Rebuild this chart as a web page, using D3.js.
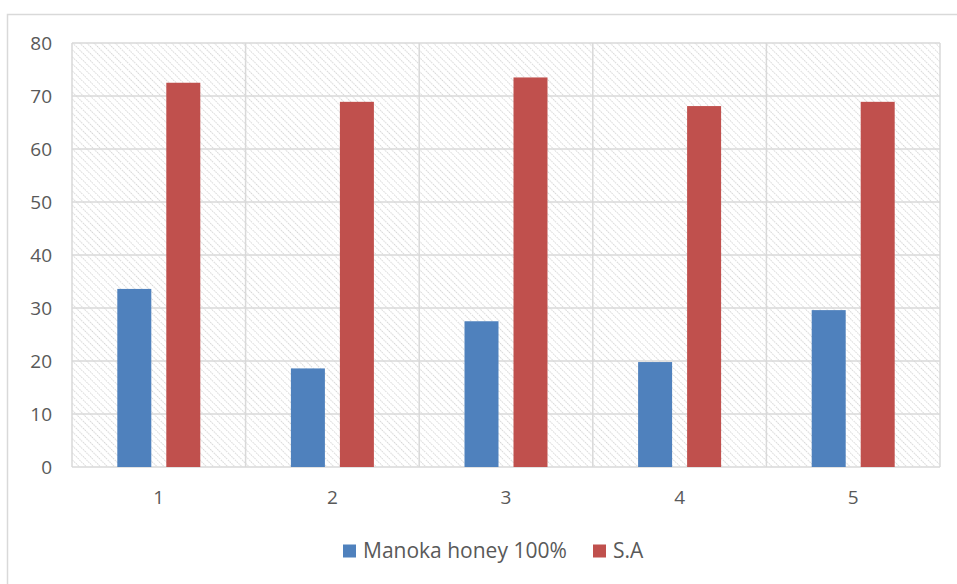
<!DOCTYPE html>
<html>
<head>
<meta charset="utf-8">
<script src="https://cdn.jsdelivr.net/npm/d3@7"></script>
<style>
  html, body { margin: 0; padding: 0; background: #fff; }
  svg { display: block; }
  text { font-family: "Open Sans", "Liberation Sans", sans-serif; fill: #595959; }
</style>
</head>
<body>
<svg id="chart" width="957" height="584"></svg>
<script>
const categories = ["1", "2", "3", "4", "5"];
const seriesNames = ["Manoka honey 100%", "S.A"];
const manokaHoney = [33.6, 18.6, 27.5, 19.8, 29.6];
const sa = [72.5, 68.9, 73.5, 68.1, 68.9];
const yTicks = [0, 10, 20, 30, 40, 50, 60, 70, 80];
const colors = ["#4f81bd", "#c0504d"];

const svg = d3.select("#chart");
const margin = { left: 72, right: 17, top: 43, bottom: 117 };
const W = 957, H = 584;
const plotW = W - margin.left - margin.right;
const plotH = H - margin.top - margin.bottom;

// Diagonal hatch (top-left to bottom-right) used as plot background
const defs = svg.append("defs");
const pat = defs.append("pattern")
  .attr("id", "hatch")
  .attr("patternUnits", "userSpaceOnUse")
  .attr("width", 5).attr("height", 5)
  .attr("patternTransform", "rotate(-45)");
pat.append("line")
  .attr("x1", 0).attr("y1", 0).attr("x2", 0).attr("y2", 5)
  .attr("stroke", "#d2d2d2").attr("stroke-width", 1.8)
  .attr("stroke-dasharray", "1.6,0.9");

// Outer chart frame
svg.append("rect")
  .attr("x", 7.5).attr("y", 14.5)
  .attr("width", W).attr("height", H)
  .attr("fill", "none").attr("stroke", "#d9d9d9").attr("stroke-width", 1.5);

const g = svg.append("g").attr("transform", `translate(${margin.left},${margin.top})`);

const x0 = d3.scaleBand().domain(categories).range([0, plotW]).paddingInner(0).paddingOuter(0);
const y = d3.scaleLinear().domain([0, 80]).range([plotH, 0]);

g.append("rect")
  .attr("x", 0).attr("y", 0).attr("width", plotW).attr("height", plotH)
  .attr("fill", "url(#hatch)");

// Horizontal gridlines
g.selectAll(".hgrid").data(yTicks).enter().append("line")
  .attr("x1", 0).attr("x2", plotW)
  .attr("y1", d => y(d)).attr("y2", d => y(d))
  .attr("stroke", "#d9d9d9").attr("stroke-width", 1.5);

// Vertical gridlines at category boundaries
const vLines = categories.map(c => x0(c)).concat([plotW]);
g.selectAll(".vgrid").data(vLines).enter().append("line")
  .attr("x1", d => d).attr("x2", d => d)
  .attr("y1", 0).attr("y2", plotH)
  .attr("stroke", "#d9d9d9").attr("stroke-width", 1.5);

// Bars
const barW = 34, gap = 15;
const groupW = barW * 2 + gap;
const x1 = d3.scaleOrdinal().domain([0, 1]).range([0, barW + gap]);
const series = [manokaHoney, sa];
series.forEach((vals, si) => {
  g.selectAll(".bar" + si).data(vals).enter().append("rect")
    .attr("x", (d, i) => x0(categories[i]) + x0.bandwidth() / 2 - groupW / 2 + x1(si))
    .attr("y", d => y(d))
    .attr("width", barW)
    .attr("height", d => plotH - y(d))
    .attr("fill", colors[si]);
});

// Y axis labels
g.selectAll(".ylab").data(yTicks).enter().append("text")
  .attr("x", -20).attr("y", d => y(d))
  .attr("dy", "0.35em")
  .attr("text-anchor", "end")
  .attr("font-size", 19)
  .text(d => d);

// X axis labels
g.selectAll(".xlab").data(categories).enter().append("text")
  .attr("x", d => x0(d) + x0.bandwidth() / 2)
  .attr("y", plotH + 37)
  .attr("text-anchor", "middle")
  .attr("font-size", 19)
  .text(d => d);

// Legend
const legend = svg.append("g").attr("transform", "translate(343,551)");
const legendX = [0, 250];
seriesNames.forEach((name, i) => {
  const lg = legend.append("g").attr("transform", `translate(${legendX[i]},0)`);
  lg.append("rect").attr("x", 0).attr("y", -6.5).attr("width", 13).attr("height", 13).attr("fill", colors[i]);
  lg.append("text").attr("x", 20).attr("y", 0).attr("dy", "0.35em")
    .attr("font-size", 21).text(name);
});
</script>
</body>
</html>
